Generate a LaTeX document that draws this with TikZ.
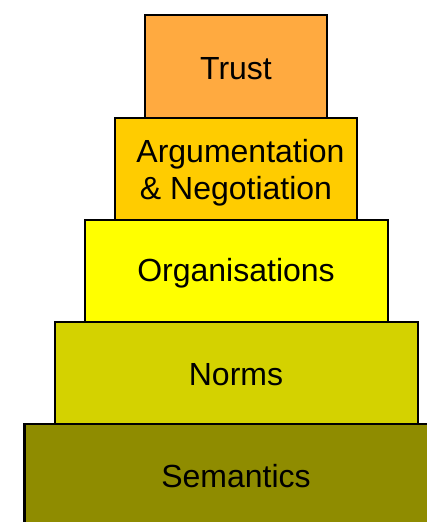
\documentclass[tikz,border=0pt]{standalone}
\usepackage{fontspec}
\setmainfont{Liberation Sans}
\definecolor{ctrust}{RGB}{255,170,64}
\definecolor{carg}{RGB}{255,204,0}
\definecolor{corg}{RGB}{255,255,0}
\definecolor{cnorm}{RGB}{212,210,0}
\definecolor{csem}{RGB}{143,140,0}
\begin{document}
\begin{tikzpicture}[x=1pt,y=-1pt,
  layer/.style={draw=black,line width=2.6pt},
  lbl/.style={font=\fontsize{32}{36.5}\selectfont,align=center,inner sep=0pt}]
\useasboundingbox (0,0) rectangle (427,522);
\path[layer,fill=csem] (24.5,424) rectangle (440,540);
\path[layer,fill=cnorm] (55,322) rectangle (418,424);
\path[layer,fill=corg] (85,220) rectangle (388,322);
\path[layer,fill=carg] (115,118) rectangle (357,220);
\path[layer,fill=ctrust] (145,15) rectangle (327,118);
\node[lbl] (trust) at (236,69) {Trust};
\node[lbl] (arg) at (240.5,172.5) {Argumentation\\\& Negotiation\kern9pt\relax};
\node[lbl] (org) at (236,273) {Organisations};
\node[lbl] (norms) at (236,375) {Norms};
\node[lbl] (sem) at (236,476) {Semantics};
\end{tikzpicture}
\end{document}
